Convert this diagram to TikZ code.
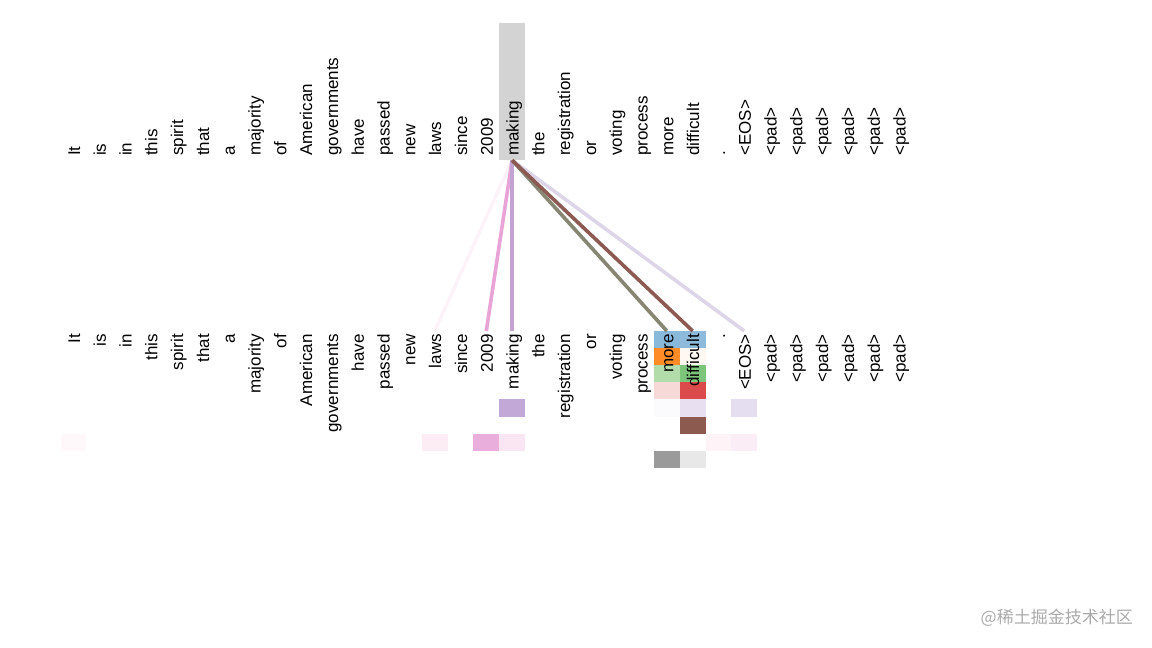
\documentclass[tikz,border=0pt]{standalone}
\usepackage{fontspec}
\setmainfont{Liberation Sans}
\newfontfamily\cjk{Noto Sans CJK SC}
\definecolor{hlgray}{HTML}{D3D3D3}
\definecolor{lnpink}{HTML}{E8A3D7}
\definecolor{lnpurple}{HTML}{C3A3D2}
\definecolor{lnolive}{HTML}{868672}
\definecolor{lnbrown}{HTML}{8C5A52}
\definecolor{lnlav}{HTML}{DDD5E8}
\definecolor{lnfaint}{HTML}{FCF3F8}
\definecolor{wmgray}{HTML}{AAAAAA}
\begin{document}
\begin{tikzpicture}[x=1pt,y=-1pt,
  tok/.style={rotate=90,inner sep=0pt,font=\fontsize{17}{20}\selectfont},
  toptok/.style={tok,anchor=base west},
  bottok/.style={tok,anchor=base east},
  cell/.style={minimum width=25.8pt,minimum height=17.1pt,inner sep=0pt,draw=none},
  attn/.style={line width=3.6pt,line cap=butt}]
\useasboundingbox (0,0) rectangle (1152,648);
\def\col#1{(73.5+25.8*#1)}
% highlight of the query token
\node[fill=hlgray,minimum width=25.8pt,minimum height=137pt,inner sep=0pt] (hl) at ({\col{17}},91.5) {};
% attention cells (8 heads)
\newcommand\cellat[4]{\definecolor{cc#1}{HTML}{#4}\node[cell,fill=cc#1] (#1) at ({\col{#2}},{331+17.1*(#3+0.5)}) {};}
\cellat{c0a}{23}{0}{88B8DA}
\cellat{c0b}{24}{0}{8EBBDC}
\cellat{c1a}{23}{1}{FF8C26}
\cellat{c1b}{24}{1}{FFF8F2}
\cellat{c2a}{23}{2}{B2DCAA}
\cellat{c2b}{24}{2}{7CC57A}
\cellat{c3a}{23}{3}{F7D9D8}
\cellat{c3b}{24}{3}{DC4B4B}
\cellat{c4m}{17}{4}{C2A8D6}
\cellat{c4a}{23}{4}{FBFAFC}
\cellat{c4b}{24}{4}{E8E0F0}
\cellat{c4e}{26}{4}{E4DEF0}
\cellat{c5b}{24}{5}{8C5A4E}
\cellat{c6i}{0}{6}{FEF8FB}
\cellat{c6l}{14}{6}{FCEDF5}
\cellat{c6y}{16}{6}{EAAEDC}
\cellat{c6m}{17}{6}{FAE6F2}
\cellat{c6d}{25}{6}{FEF4F8}
\cellat{c6e}{26}{6}{FBEDF5}
\cellat{c7a}{23}{7}{9A9A9A}
\cellat{c7b}{24}{7}{E8E8E8}
% connector end points on the bottom row
\foreach \j in {14,16,17,23,24,26} {\coordinate (in\j) at ({\col{\j}},331);}
% attention lines
\draw[attn,lnfaint] (hl.south) -- (in14);
\draw[attn,lnlav] (hl.south) -- (in26);
\draw[attn,lnpink] (hl.south) -- (in16);
\draw[attn,lnpurple] (hl.south) -- (in17);
\draw[attn,lnolive] (hl.south) -- (in23);
\draw[attn,lnbrown] (hl.south) -- (in24);
% tokens
\foreach \w [count=\i from 0] in {It,is,in,this,spirit,that,a,majority,of,American,governments,have,passed,new,laws,since,2009,making,the,registration,or,voting,process,more,difficult,.,<EOS>,<pad>,<pad>,<pad>,<pad>,<pad>,<pad>} {
  \node[toptok] (t\i) at ({\col{\i}+6.5},156) {\w};
  \node[bottok] (b\i) at ({\col{\i}+6.5},334) {\w};
}
% watermark
\node[anchor=east,inner sep=0pt,text=wmgray,font=\cjk\fontsize{17}{20}\selectfont] (wm) at (1133,618) {@稀土掘金技术社区};
\end{tikzpicture}
\end{document}
